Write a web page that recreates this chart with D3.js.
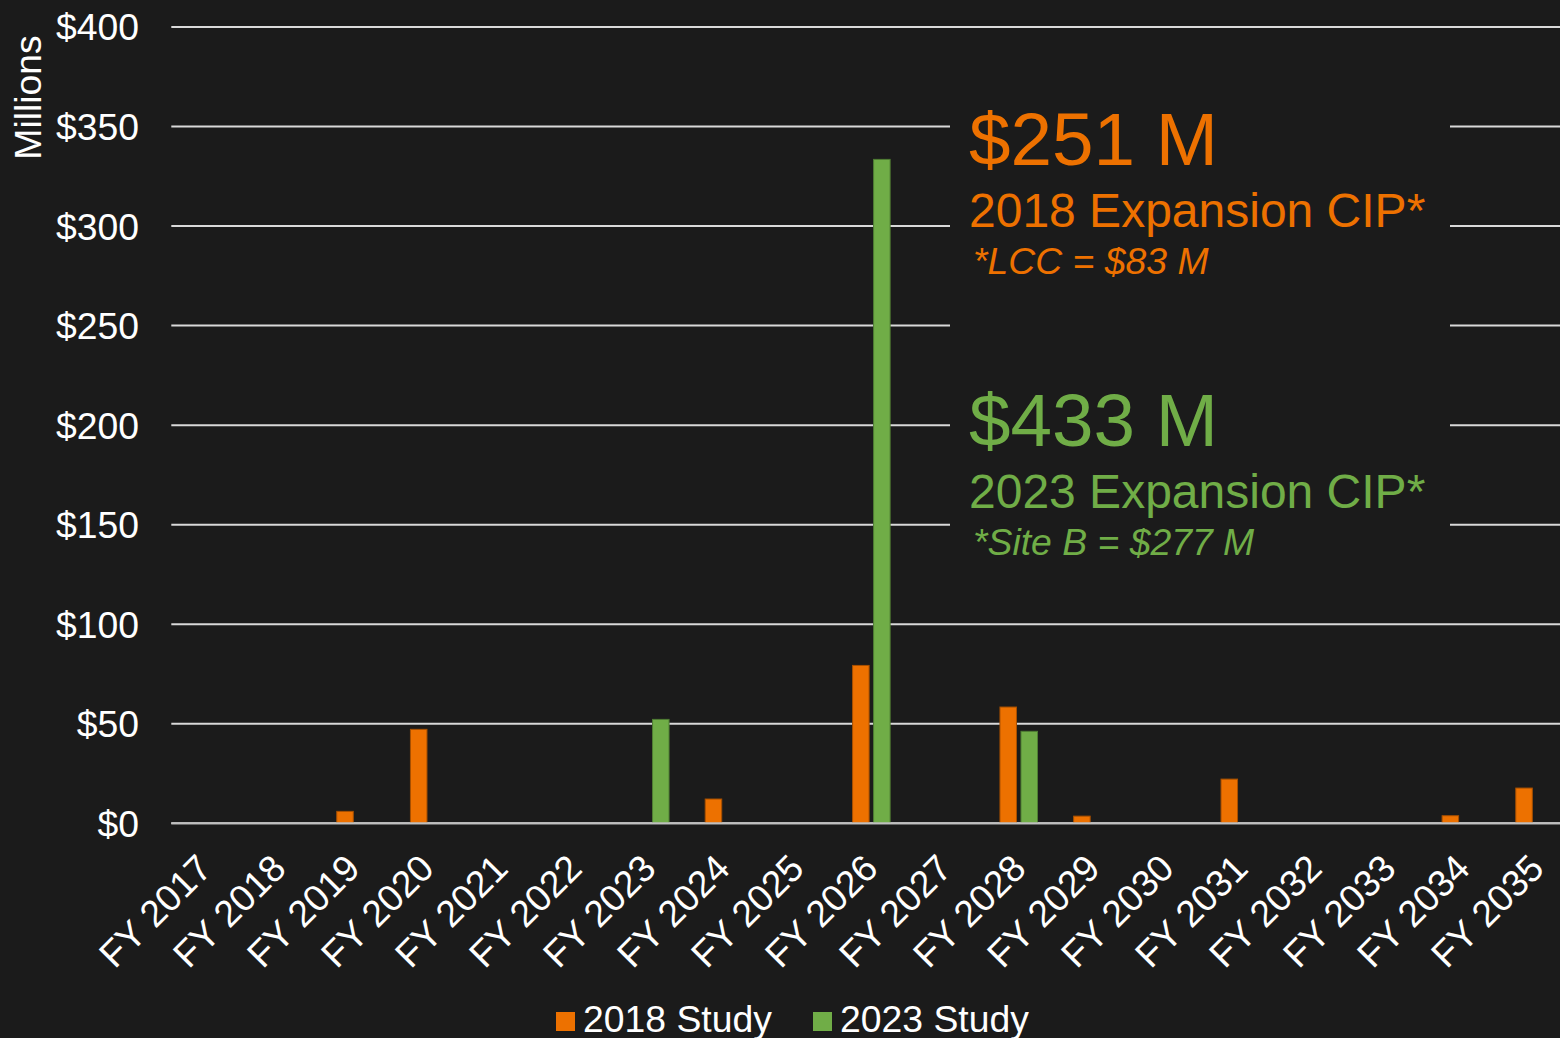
<!DOCTYPE html>
<html>
<head>
<meta charset="utf-8">
<script src="https://cdn.jsdelivr.net/npm/d3@7"></script>
<style>
  html, body { margin: 0; padding: 0; background: #1b1b1b; }
  svg { display: block; font-family: "Liberation Sans", Arial, sans-serif; }
</style>
</head>
<body>
<div id="chart"></div>
<script>
// Data
const years = ["FY 2017", "FY 2018", "FY 2019", "FY 2020", "FY 2021", "FY 2022", "FY 2023",
  "FY 2024", "FY 2025", "FY 2026", "FY 2027", "FY 2028", "FY 2029", "FY 2030", "FY 2031",
  "FY 2032", "FY 2033", "FY 2034", "FY 2035"];
const study2018 = [0, 0, 6, 47.2, 0, 0, 0, 12.2, 0, 79.3, 0, 58.4, 3.6, 0, 22.2, 0, 0, 3.8, 17.7];
const study2023 = [0, 0, 0, 0, 0, 0, 52.2, 0, 0, 333.5, 0, 46.2, 0, 0, 0, 0, 0, 0, 0];
const seriesNames = ["2018 Study", "2023 Study"];
const yTicks = [0, 50, 100, 150, 200, 250, 300, 350, 400];
const notes = [
  { big: "$251 M", mid: "2018 Expansion CIP*", small: "*LCC = $83 M" },
  { big: "$433 M", mid: "2023 Expansion CIP*", small: "*Site B = $277 M" }
];

const W = 1560, H = 1038;
const colors = { "2018 Study": "#ed7100", "2023 Study": "#70ad47" };
const strokes = { "2018 Study": "#a85000", "2023 Study": "#4f7d33" };
const fs = "37.33px"; // 28pt

const svg = d3.select("#chart").append("svg")
  .attr("width", W).attr("height", H);

svg.append("rect").attr("width", W).attr("height", H).attr("fill", "#1b1b1b");

const x = d3.scaleBand().domain(years).range([171.3, 1571.4]).padding(0);
const x1 = d3.scaleBand().domain(seriesNames).range([0, x.bandwidth()])
  .paddingInner(0.214).paddingOuter(0.86);
const xLabel = d3.scalePoint().domain(years).range([214, 1546]);
const y = d3.scaleLinear().domain([0, 400]).range([823.3, 27]);

// Gridlines
svg.append("g")
  .selectAll("line")
  .data(yTicks)
  .join("line")
  .attr("x1", 171.3).attr("x2", W)
  .attr("y1", d => y(d)).attr("y2", d => y(d))
  .style("stroke", "#d9d9d9")
  .style("stroke-width", 2);

// Y labels
svg.append("g")
  .selectAll("text")
  .data(yTicks)
  .join("text")
  .attr("x", 139)
  .attr("y", d => y(d))
  .attr("dy", "0.36em")
  .attr("text-anchor", "end")
  .style("fill", "#ffffff")
  .style("font-size", fs)
  .text(d => "$" + d);

svg.append("text")
  .attr("transform", "translate(41,97.5) rotate(-90)")
  .attr("text-anchor", "middle")
  .style("fill", "#ffffff")
  .style("font-size", fs)
  .text("Millions");

// Annotation box (hides gridlines behind text)
svg.append("rect")
  .attr("x", 950).attr("y", 95)
  .attr("width", 500).attr("height", 470)
  .attr("fill", "#1b1b1b");

// Bars
const rows = years.map((yr, i) => ({ year: yr, values: [
  { key: "2018 Study", value: study2018[i] },
  { key: "2023 Study", value: study2023[i] }
]}));

svg.append("g")
  .selectAll("g")
  .data(rows)
  .join("g")
  .attr("transform", d => `translate(${x(d.year)},0)`)
  .selectAll("rect")
  .data(d => d.values.filter(v => v.value > 0))
  .join("rect")
  .attr("x", d => x1(d.key))
  .attr("width", x1.bandwidth())
  .attr("y", d => y(d.value))
  .attr("height", d => y(0) - y(d.value))
  .style("fill", d => colors[d.key])
  .style("stroke", d => strokes[d.key])
  .style("stroke-width", 1);

// Baseline on top of bars
svg.append("line")
  .attr("x1", 171.3).attr("x2", W)
  .attr("y1", y(0)).attr("y2", y(0))
  .style("stroke", "#bfbfbf")
  .style("stroke-width", 2);

// X labels
svg.append("g")
  .selectAll("text")
  .data(years)
  .join("text")
  .attr("transform", d => `translate(${xLabel(d)},870.5) rotate(-45)`)
  .attr("text-anchor", "end")
  .style("fill", "#ffffff")
  .style("font-size", fs)
  .text(d => d);

// Annotations
const noteY = [165, 446];
const noteColors = ["#ed7100", "#70ad47"];
notes.forEach((n, i) => {
  const g = svg.append("g").style("fill", noteColors[i]);
  g.append("text").attr("x", 969).attr("y", noteY[i])
    .style("font-size", "74.67px").text(n.big);
  g.append("text").attr("x", 969).attr("y", noteY[i] + 62)
    .style("font-size", "48px").text(n.mid);
  g.append("text").attr("x", 973).attr("y", noteY[i] + 109)
    .style("font-size", fs).style("font-style", "italic").text(n.small);
});

// Legend
const legend = svg.append("g");
const legendX = [556, 813];
seriesNames.forEach((s, i) => {
  legend.append("rect")
    .attr("x", legendX[i]).attr("y", 1012)
    .attr("width", 19).attr("height", 19)
    .attr("fill", colors[s]);
  legend.append("text")
    .attr("x", legendX[i] + 27).attr("y", 1031.5)
    .style("fill", "#ffffff")
    .style("font-size", fs)
    .text(s);
});
</script>
</body>
</html>
